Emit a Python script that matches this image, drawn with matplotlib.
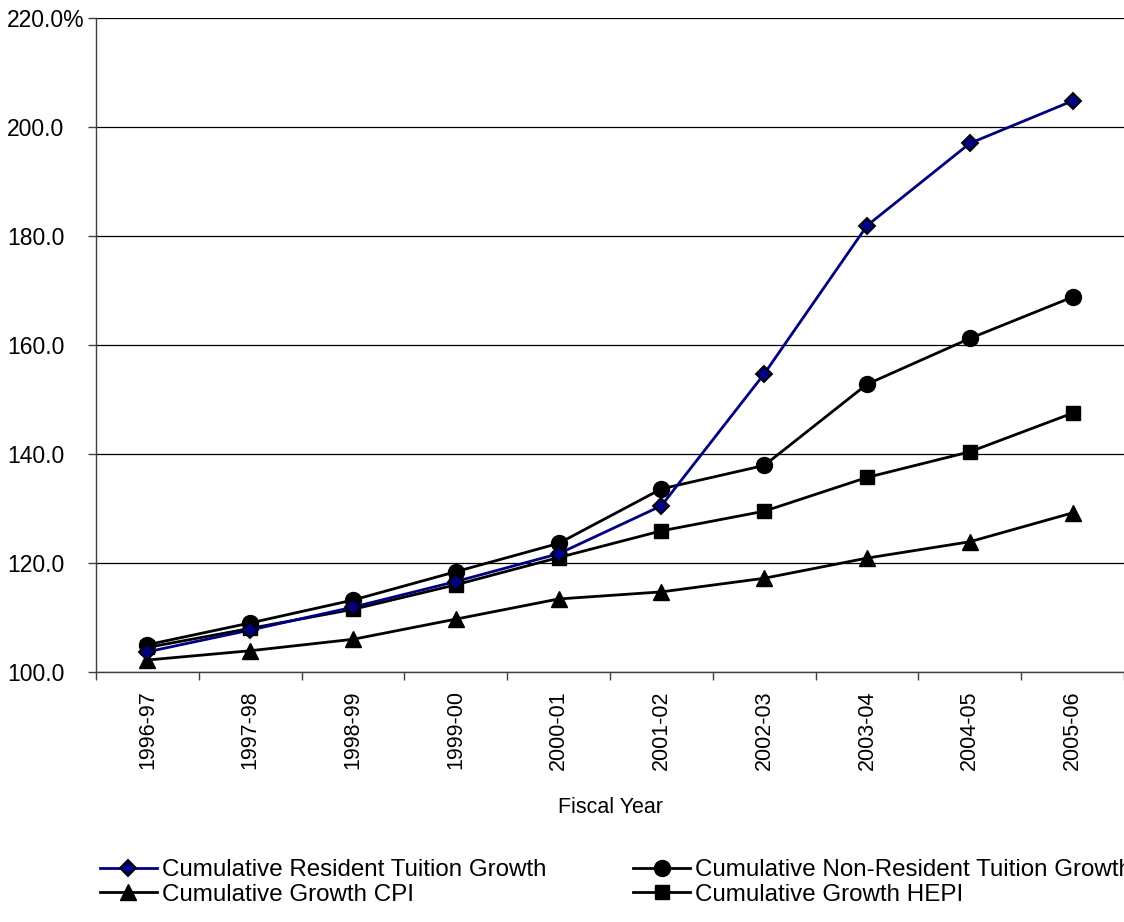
import matplotlib
matplotlib.use("Agg")
import matplotlib.pyplot as plt
import numpy as np

plt.rcParams["font.family"] = ["Liberation Sans", "DejaVu Sans"]

years = ["1996-97", "1997-98", "1998-99", "1999-00", "2000-01",
         "2001-02", "2002-03", "2003-04", "2004-05", "2005-06"]
resident = [103.7, 107.7, 111.9, 116.6, 121.7, 130.5, 154.7, 181.9, 197.0, 204.8]
non_resident = [105.0, 109.0, 113.2, 118.4, 123.6, 133.6, 137.9, 152.8, 161.2, 168.8]
cpi = [102.2, 103.9, 106.0, 109.7, 113.4, 114.7, 117.2, 120.9, 123.9, 129.2]
hepi = [104.5, 108.0, 111.5, 116.0, 121.0, 125.9, 129.5, 135.7, 140.4, 147.5]
y_ticks = [100, 120, 140, 160, 180, 200, 220]

fig = plt.figure(figsize=(11.24, 9.22), dpi=100)
ax = fig.add_axes([96 / 1124, 1 - 672 / 922, 1 - 96 / 1124, (672 - 18) / 922])

x = np.arange(len(years))
lw = 2.0
l_res, = ax.plot(x, resident, color="#000080", lw=lw, marker="D", markersize=8.5,
                 markerfacecolor="#000080", markeredgecolor="black", markeredgewidth=1.4,
                 label="Cumulative Resident Tuition Growth", zorder=5)
l_non, = ax.plot(x, non_resident, color="black", lw=lw, marker="o", markersize=11.5,
                 label="Cumulative Non-Resident Tuition Growth", zorder=4)
l_cpi, = ax.plot(x, cpi, color="black", lw=lw, marker="^", markersize=11.5,
                 label="Cumulative Growth CPI", zorder=4)
l_hepi, = ax.plot(x, hepi, color="black", lw=lw, marker="s", markersize=10.5,
                  label="Cumulative Growth HEPI", zorder=4)

ax.set_xlim(-0.5, len(years) - 0.5)
ax.set_ylim(100, 220)
ax.set_yticks(y_ticks)
ax.set_yticklabels([f"{v:.1f}" + ("%" if v == 220 else "") for v in y_ticks])
ax.yaxis.grid(True, color="black", lw=0.9)
ax.set_axisbelow(True)

ax.set_xticks(x)
ax.set_xticklabels(years, rotation=90)
ax.set_xticks(np.arange(-0.5, len(years) - 0.4, 1.0), minor=True)
ax.tick_params(axis="x", which="major", length=0, pad=13, labelsize=15.5)
ax.tick_params(axis="x", which="minor", length=6, width=1, color="#404040", direction="out")
# excel-style: labels left aligned, start at the same x
ax.tick_params(axis="y", length=6, width=1, color="#404040", pad=58, labelsize=16.5)
for lbl in ax.get_yticklabels():
    lbl.set_horizontalalignment("left")

for s in ["top", "right"]:
    ax.spines[s].set_visible(False)
for s in ["left", "bottom"]:
    ax.spines[s].set_color("#404040")
    ax.spines[s].set_linewidth(1)

ax.set_xlabel("Fiscal Year", fontsize=15.5, labelpad=20)

fig.legend(handles=[l_res, l_cpi, l_non, l_hepi], ncol=2, frameon=False,
           loc="upper left", bbox_to_anchor=(100 / 1124, 1 - 859 / 922),
           fontsize=17.4, handlelength=2.35, handletextpad=0.2, columnspacing=3.6,
           labelspacing=0.12, borderpad=0, borderaxespad=0)

fig.savefig("out.png", dpi=100)
